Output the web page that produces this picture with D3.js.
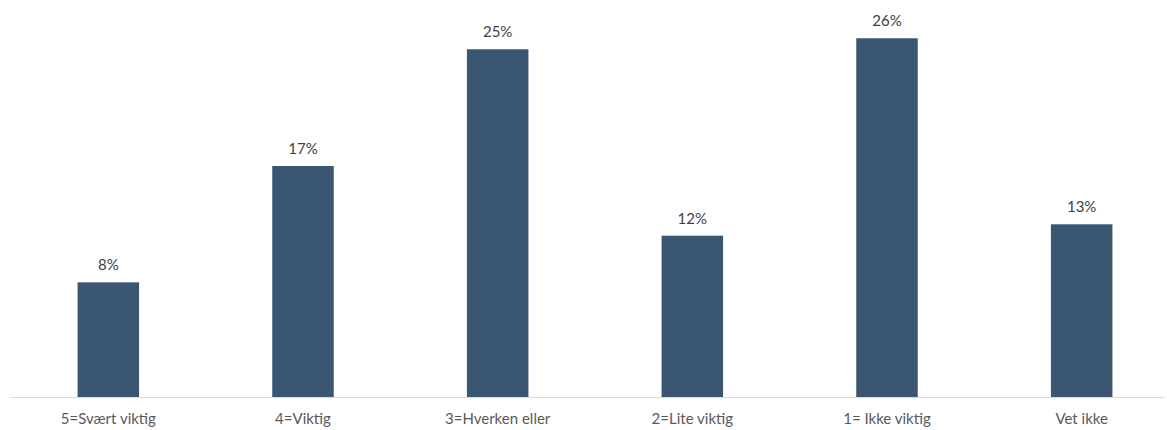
<!DOCTYPE html>
<html><head><meta charset="utf-8">
<script src="https://cdn.jsdelivr.net/npm/d3@7"></script>
<style>body{margin:0;background:#fff}svg{display:block}</style>
</head><body>
<script>
const categories = ["5=Svært viktig","4=Viktig","3=Hverken eller","2=Lite viktig","1= Ikke viktig","Vet ikke"];
const values = [8.34, 16.8, 25.29, 11.73, 26.09, 12.56];

const W = 1167, H = 430;
const svg = d3.select("body").append("svg").attr("width", W).attr("height", H);
const font = "Lato, 'Open Sans', sans-serif";

const x = d3.scaleBand().domain(categories).range([11, 1179]).paddingInner(0.684).paddingOuter(0.342);
const y = d3.scaleLinear().domain([0, 28]).range([397, 397 - 28 * 13.75]);

svg.append("line").attr("x1", 10).attr("x2", 1164).attr("y1", 397.5).attr("y2", 397.5)
  .attr("stroke", "#d9d9d9").attr("stroke-width", 1);

svg.selectAll("rect.bar").data(values).join("rect").attr("class", "bar")
  .attr("x", (d, i) => x(categories[i]))
  .attr("width", x.bandwidth())
  .attr("y", d => y(d))
  .attr("height", d => y(0) - y(d))
  .attr("fill", "#3a5673");

svg.selectAll("text.val").data(values).join("text").attr("class", "val")
  .attr("x", (d, i) => x(categories[i]) + x.bandwidth() / 2)
  .attr("y", d => y(d) - 12)
  .attr("text-anchor", "middle")
  .attr("font-family", font).attr("font-size", 15).attr("fill", "#404040")
  .text(d => Math.round(d) + "%");

const axis = d3.axisBottom(x).tickSize(0).tickPadding(16);
const g = svg.append("g").attr("transform", "translate(0,397)").call(axis);
g.select(".domain").remove();
g.selectAll("text").attr("font-family", font).attr("font-size", 15).attr("fill", "#595959");
</script>
</body></html>
